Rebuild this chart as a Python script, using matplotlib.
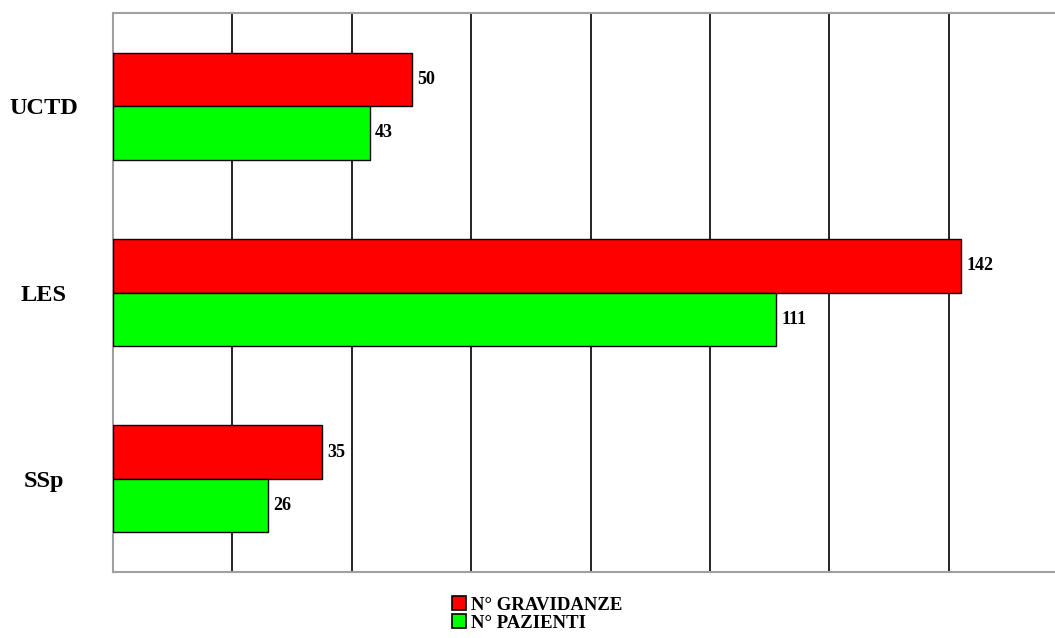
import matplotlib.pyplot as plt
import numpy as np

categorie = ["UCTD", "LES", "SSp"]
gravidanze = [50, 142, 35]
pazienti = [43, 111, 26]
serie_nomi = ["N° GRAVIDANZE", "N° PAZIENTI"]

plt.rcParams['font.family'] = ['Liberation Serif', 'DejaVu Serif']

fig = plt.figure(figsize=(10.55, 6.38), dpi=100)
ax = fig.add_axes([113 / 1055, 1 - 572 / 638, 1 - 113 / 1055, (572 - 13) / 638])

y = np.arange(len(categorie))
h = 0.287
b1 = ax.barh(y - h / 2, gravidanze, height=h, color="#ff0000", edgecolor="black",
             linewidth=1, label=serie_nomi[0], zorder=3)
b2 = ax.barh(y + h / 2, pazienti, height=h, color="#00ff00", edgecolor="black",
             linewidth=1, label=serie_nomi[1], zorder=3)

for barre, valori in [(b1, gravidanze), (b2, pazienti)]:
    for r, v in zip(barre, valori):
        ax.text(r.get_width() + 0.9, r.get_y() + r.get_height() / 2, str(v),
                va="center", ha="left", fontsize=13, fontweight="bold")

ax.set_xlim(0, (1055 - 113) / 5.97)
ax.set_ylim(len(categorie) - 0.5, -0.5)
ax.set_xticks(np.arange(20, 160, 20))
ax.set_xticklabels([])
ax.tick_params(axis="x", length=0)
ax.tick_params(axis="y", length=0, pad=50)
ax.set_yticks(y)
ax.set_yticklabels(categorie, fontsize=17.5, fontweight="bold", ha="center")
ax.grid(axis="x", color="black", linewidth=1.2, zorder=0)
ax.set_axisbelow(True)

for s in ["top", "bottom", "left"]:
    ax.spines[s].set_color("#a0a0a0")
    ax.spines[s].set_linewidth(1.5)
ax.spines["right"].set_visible(False)

leg = fig.legend(loc="center", frameon=False, prop={"size": 13.5, "weight": "bold"},
                 handlelength=0.75, handleheight=0.75, handletextpad=0.25,
                 labelspacing=0.05, borderpad=0)
leg.set_bbox_to_anchor((537 / 1055, 1 - 614 / 638))
for p in leg.get_patches():
    p.set_linewidth(1.2)

fig.savefig("out.png", dpi=100)
